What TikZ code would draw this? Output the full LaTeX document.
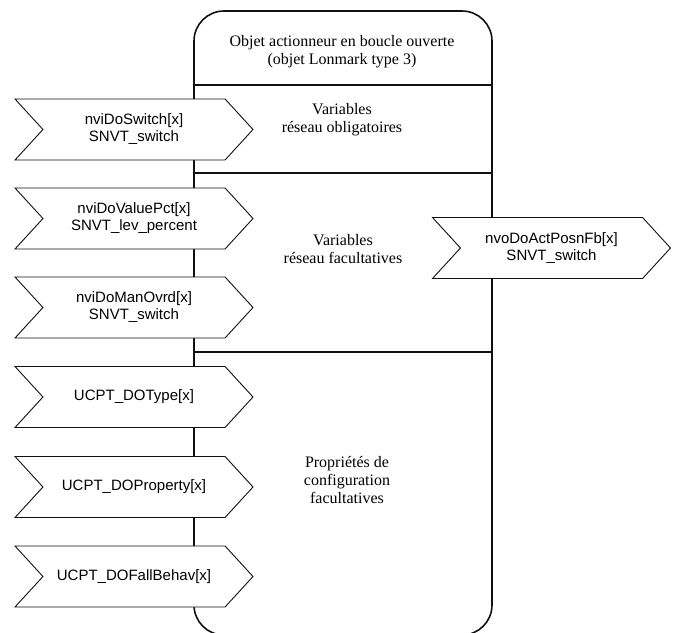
\documentclass[tikz,border=0pt]{standalone}
\usepackage{fontspec}
\setmainfont{Liberation Serif}
\setsansfont{Liberation Sans}
\usepackage{tikz}
\usetikzlibrary{shapes.symbols}
\definecolor{Ink}{HTML}{111111}
\tikzset{
  objbox/.style={draw=Ink,line width=1.6pt,rounded corners=30pt,minimum width=298pt,minimum height=624pt,inner sep=0pt},
  divider/.style={draw=Ink,line width=1.6pt},
  nvflag/.style={signal,signal from=west,signal to=east,signal pointer angle=95,draw=Ink,line width=.9pt,fill=white,minimum width=238pt,minimum height=61pt,inner sep=0pt,align=center,font=\sffamily\fontsize{15}{17}\selectfont},
  seclab/.style={align=center,font=\fontsize{16}{18}\selectfont,inner sep=0pt}
}
\begin{document}
\begin{tikzpicture}[x=1pt,y=-1pt]
  \clip (0,0) rectangle (677,632);
  \node[objbox] (obj) at (343,323) {};
  \draw[divider] (obj.west |- 0,85) -- (obj.east |- 0,85);
  \draw[divider] (obj.west |- 0,173) -- (obj.east |- 0,173);
  \draw[divider] (obj.west |- 0,352) -- (obj.east |- 0,352);

  \node[seclab] (title) at (342,52) {Objet actionneur en boucle ouverte\\(objet Lonmark type 3)};
  \node[seclab] (oblig) at (342,120) {Variables\\réseau obligatoires};
  \node[seclab] (facult) at (343,249) {Variables\\réseau facultatives};
  \node[seclab] (props) at (347,480) {Propriétés de\\configuration\\facultatives};

  % entrees et proprietes a gauche
  \node[nvflag] (swi) at (134,129.5) {nviDoSwitch[x]\\SNVT\_switch};
  \node[nvflag] (val) at (134,218.5) {nviDoValuePct[x]\\SNVT\_lev\_percent};
  \node[nvflag] (man) at (134,307.5) {nviDoManOvrd[x]\\SNVT\_switch};
  \node[nvflag] (typ) at (134,397) {UCPT\_DOType[x]};
  \node[nvflag] (prop) at (134,487) {UCPT\_DOProperty[x]};
  \node[nvflag] (fall) at (134,576.5) {UCPT\_DOFallBehav[x]};

  % sortie a droite
  \node[nvflag] (pos) at (551.5,248) {nvoDoActPosnFb[x]\\SNVT\_switch};
\end{tikzpicture}
\end{document}
